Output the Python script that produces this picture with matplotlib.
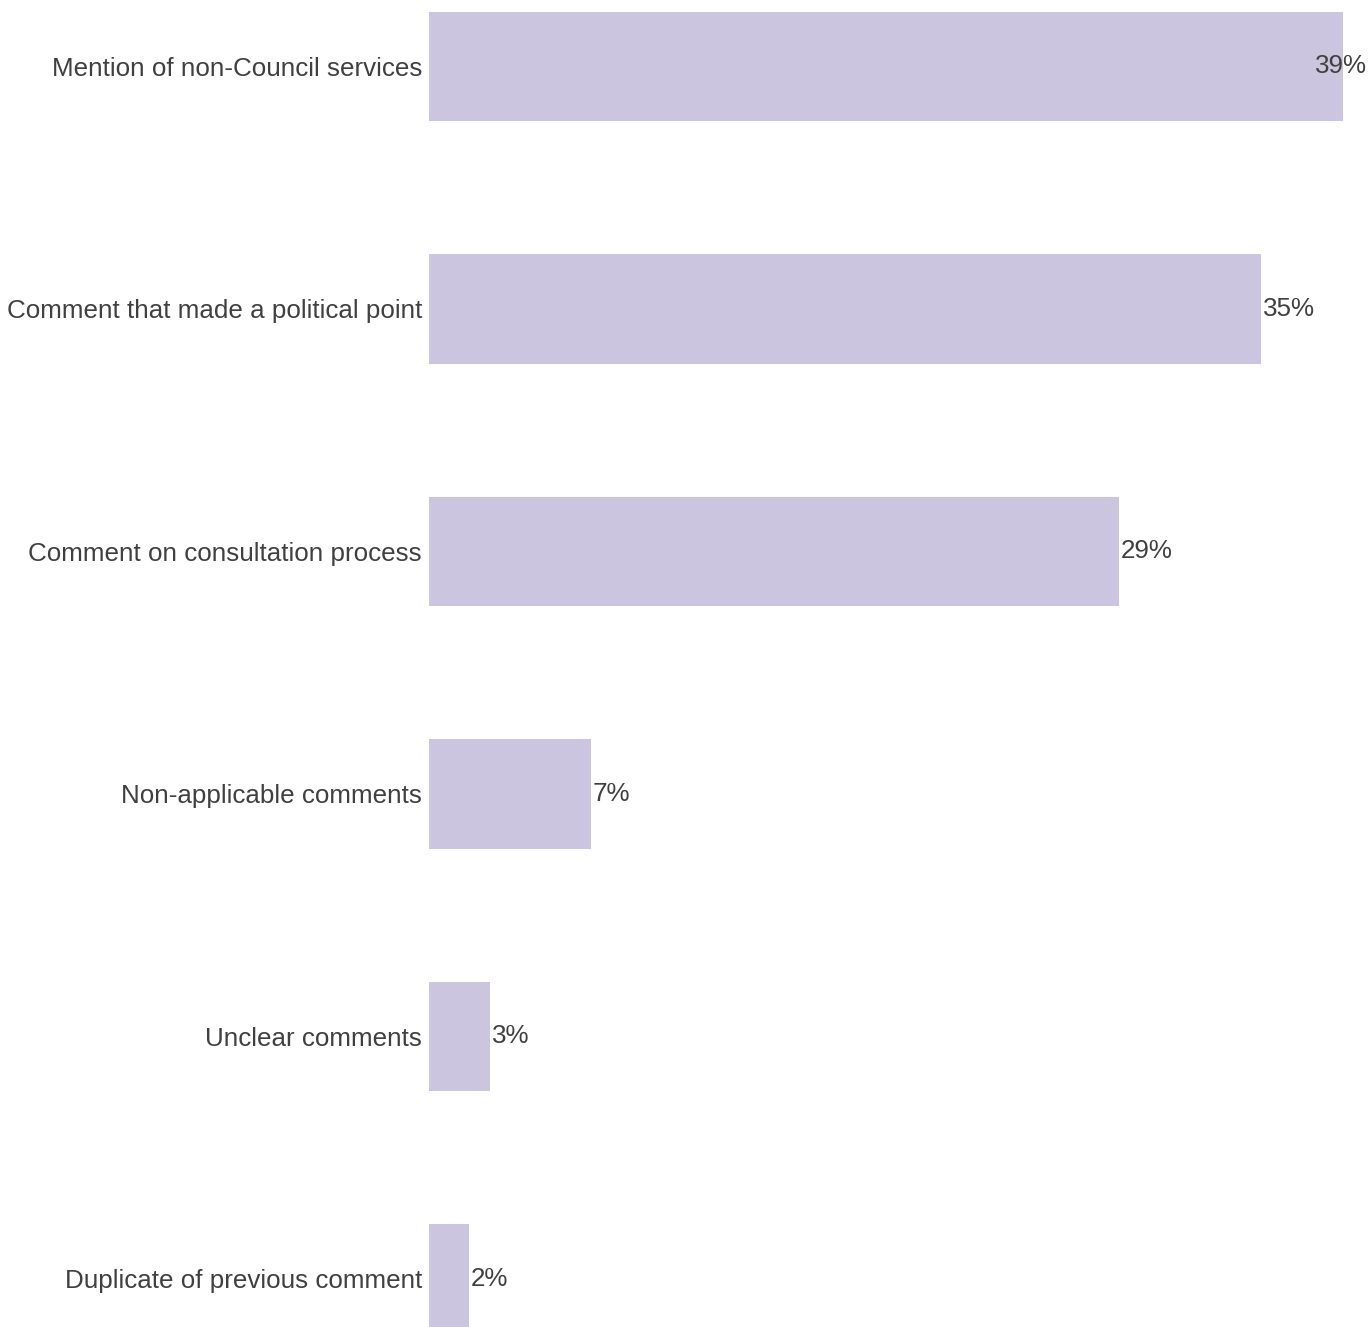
import matplotlib
matplotlib.use('Agg')
import matplotlib.pyplot as plt
import numpy as np

plt.rcParams.update({
    'font.family': ['Liberation Sans', 'DejaVu Sans'],
    'font.size': 18.7,
})

categories = [
    'Mention of non-Council services',
    'Comment that made a political point',
    'Comment on consultation process',
    'Non-applicable comments',
    'Unclear comments',
    'Duplicate of previous comment',
]
values = [39.0, 35.5, 29.45, 6.9, 2.6, 1.7]
labels = ['39%', '35%', '29%', '7%', '3%', '2%']

BAR_COLOUR = '#cbc5e0'
TEXT_COLOUR = '#404040'

fig = plt.figure(figsize=(13.72, 13.27), dpi=100)
ax = fig.add_axes([429 / 1372, 0, 1 - 429 / 1372, 1])

y = np.arange(len(categories))
ax.barh(y, values, height=0.45, color=BAR_COLOUR, edgecolor='none')

xmax = 40.25
ax.set_xlim(0, xmax)
ax.set_ylim(5.198, -0.274)

ax.set_yticks(y)
ax.set_yticklabels(categories, color=TEXT_COLOUR)
ax.tick_params(axis='y', length=0, pad=5)
ax.set_xticks([])
for s in ax.spines.values():
    s.set_visible(False)

# value labels: just past the bar end, pulled inside when it would overflow
for yi, v, lab in zip(y, values, labels):
    if v > xmax - 2.5:
        ax.text(xmax - 0.2, yi, lab, ha='right', va='center', color=TEXT_COLOUR)
    else:
        ax.text(v + 0.08, yi, lab, ha='left', va='center', color=TEXT_COLOUR)

fig.savefig('out.png', dpi=100)
